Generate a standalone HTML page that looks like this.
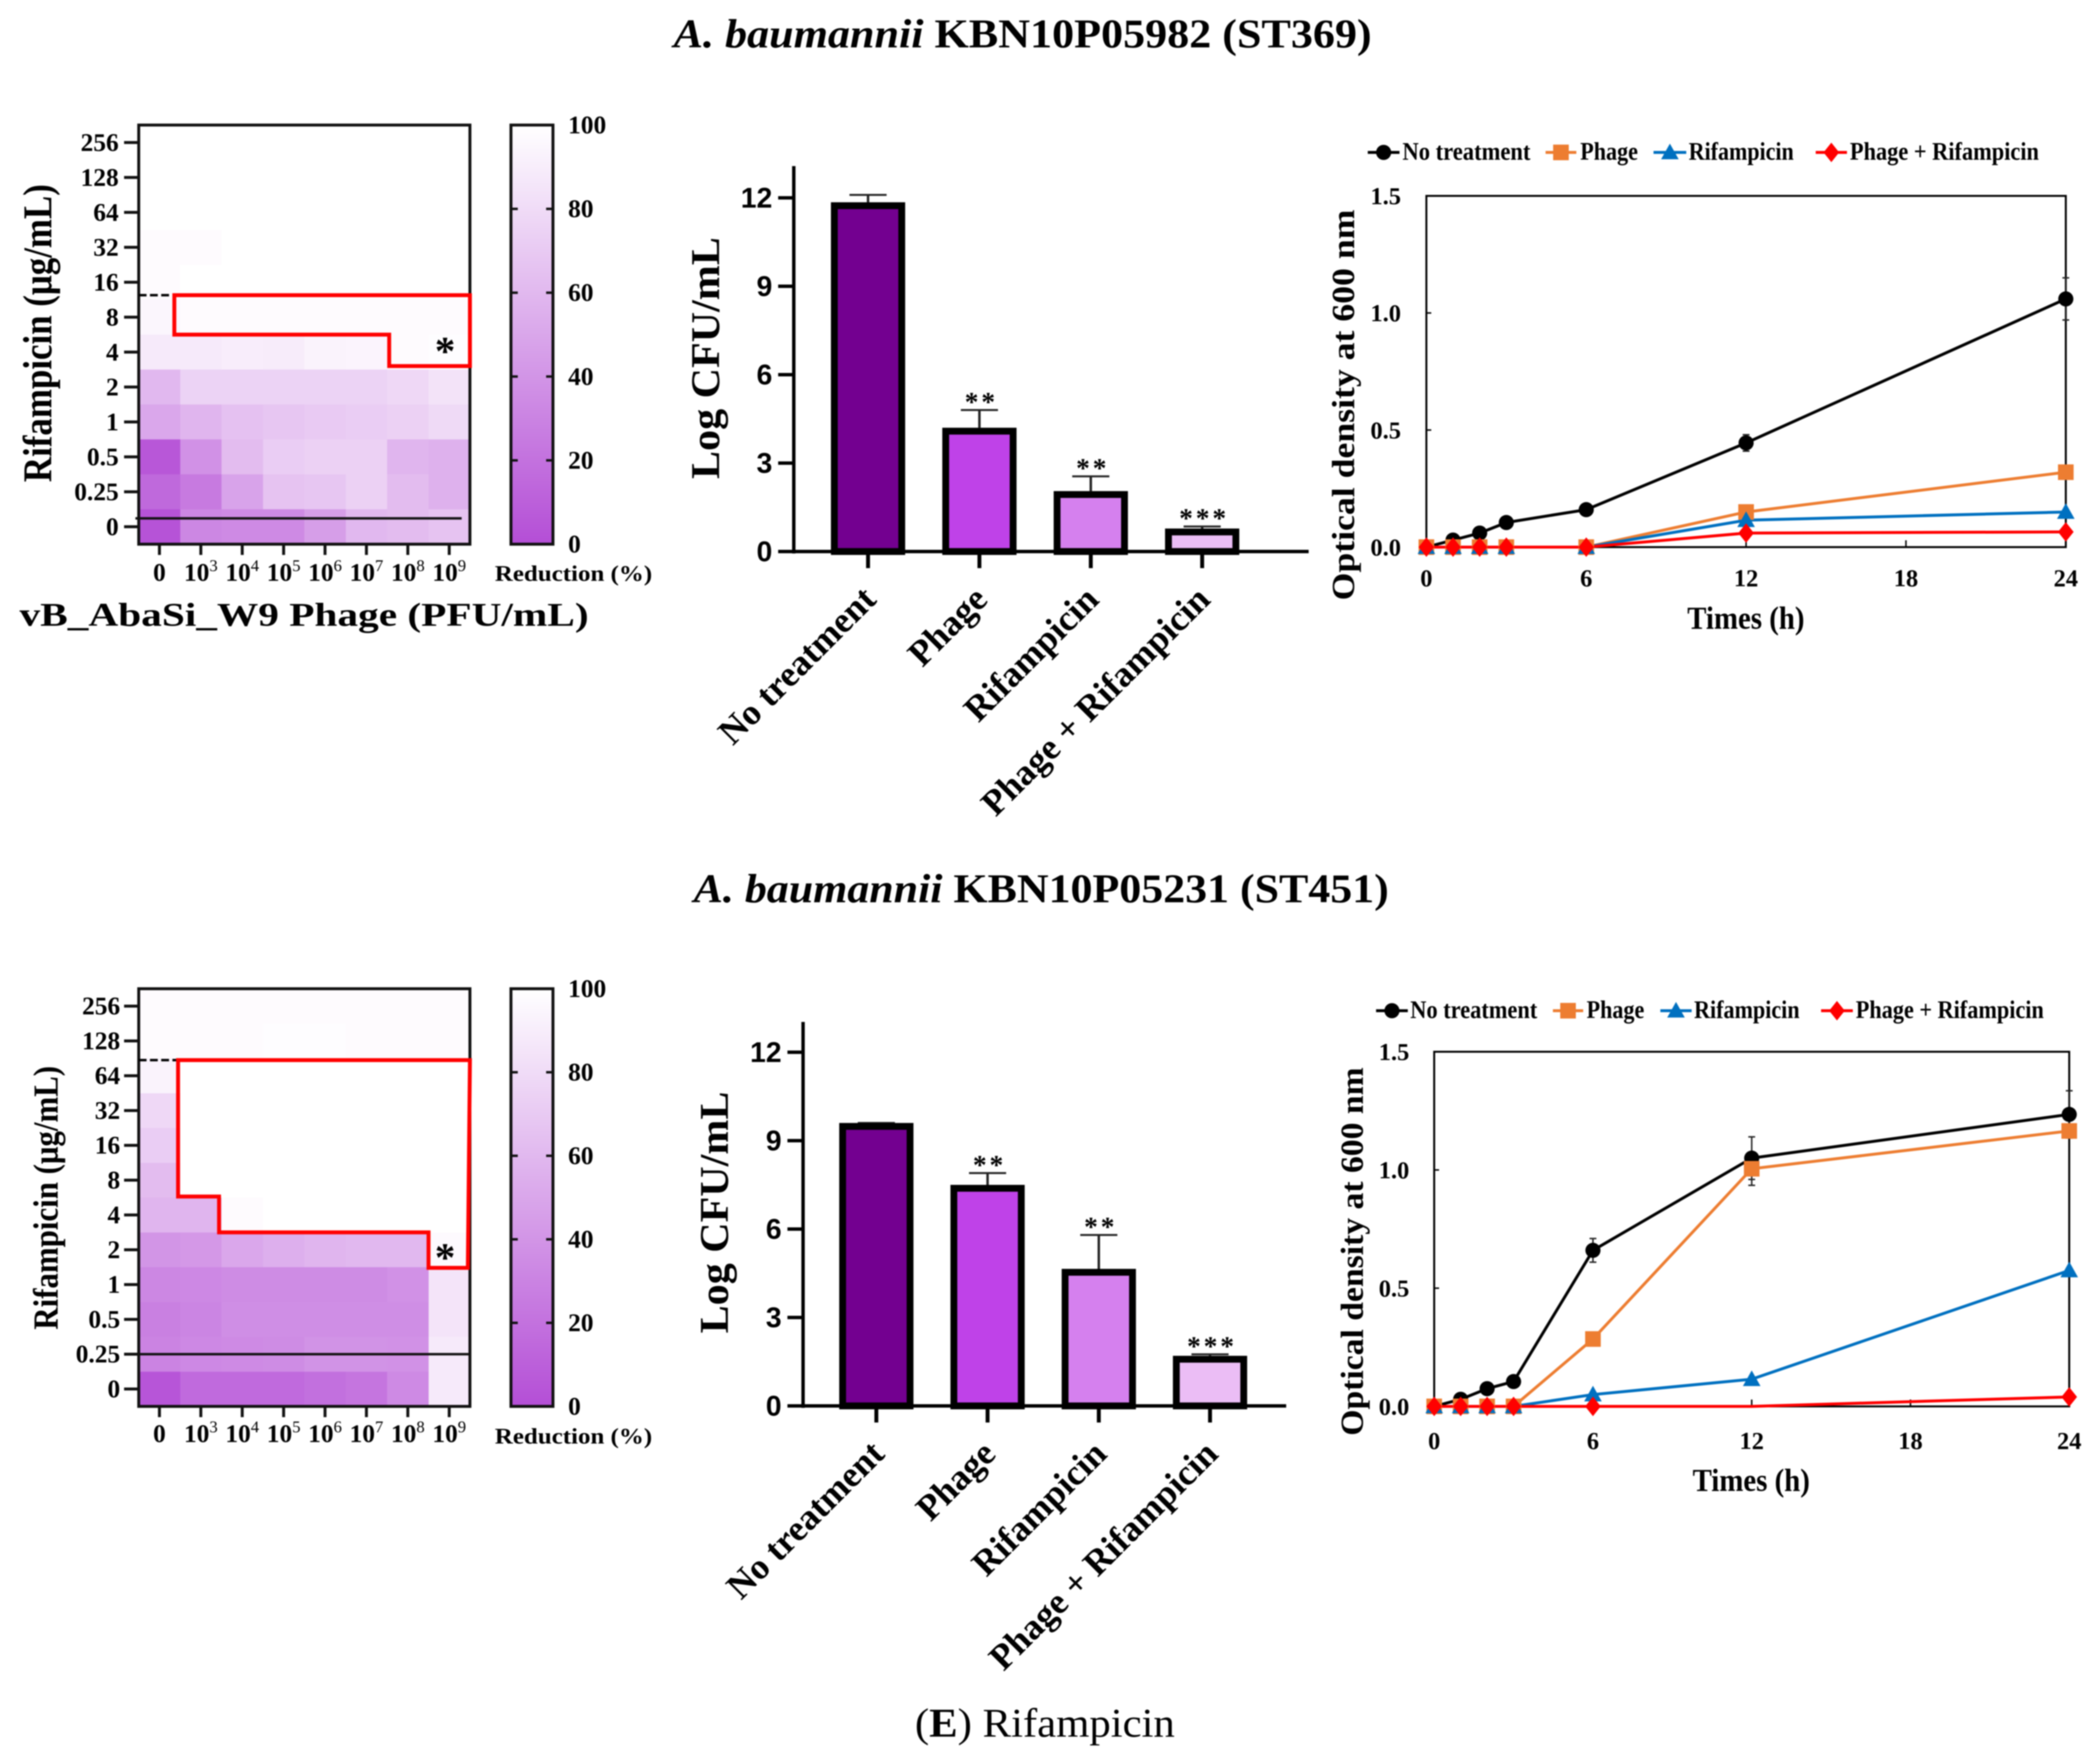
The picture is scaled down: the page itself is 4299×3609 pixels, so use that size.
<!DOCTYPE html>
<html lang="en">
<head>
<meta charset="utf-8">
<title>A. baumannii rifampicin synergy figure</title>
<style>
html,body{margin:0;padding:0;background:#fff;}
svg{display:block;filter:blur(1.2px);}
text{font-family:"Liberation Serif","DejaVu Serif",serif;fill:#000;}
.b{font-weight:700;}
.sans{font-family:"Liberation Sans",Arial,sans-serif;font-weight:700;}
</style>
</head>
<body>
<svg id="fig" xmlns="http://www.w3.org/2000/svg" width="4299" height="3609" viewBox="0 0 4299 3609">
<rect x="0" y="0" width="4299" height="3609" fill="#fff"/>

<text class="b" x="1379" y="97" font-size="84" textLength="1429" lengthAdjust="spacingAndGlyphs"><tspan font-style="italic">A. baumannii</tspan> KBN10P05982 (ST369)</text>
<text class="b" x="1420" y="1847" font-size="84" textLength="1423" lengthAdjust="spacingAndGlyphs"><tspan font-style="italic">A. baumannii</tspan> KBN10P05231 (ST451)</text>
<text x="1873" y="3555" font-size="84" textLength="532" lengthAdjust="spacingAndGlyphs">(<tspan class="b">E</tspan>) Rifampicin</text>

<text class="b" transform="translate(105,682) rotate(-90)" text-anchor="middle" font-size="84" textLength="610" lengthAdjust="spacingAndGlyphs">Rifampicin (μg/mL)</text>
<text class="b" x="40" y="1281" font-size="68" textLength="1165" lengthAdjust="spacingAndGlyphs">vB_AbaSi_W9 Phage (PFU/mL)</text>
<text class="b" x="1013" y="1189" font-size="46" textLength="322" lengthAdjust="spacingAndGlyphs">Reduction (%)</text>
<text class="b" transform="translate(118,2452) rotate(-90)" text-anchor="middle" font-size="72" textLength="540" lengthAdjust="spacingAndGlyphs">Rifampicin (μg/mL)</text>
<text class="b" x="1013" y="2955" font-size="46" textLength="322" lengthAdjust="spacingAndGlyphs">Reduction (%)</text>

<text class="b" transform="translate(1472,733) rotate(-90)" text-anchor="middle" font-size="84" textLength="495" lengthAdjust="spacingAndGlyphs">Log CFU/mL</text>
<text class="b" transform="translate(1490,2482) rotate(-90)" text-anchor="middle" font-size="84" textLength="495" lengthAdjust="spacingAndGlyphs">Log CFU/mL</text>

<text class="b" transform="translate(2772,829) rotate(-90)" text-anchor="middle" font-size="66" textLength="800" lengthAdjust="spacingAndGlyphs">Optical density at 600 nm</text>
<text class="b" x="3574" y="1287" text-anchor="middle" font-size="66" textLength="240" lengthAdjust="spacingAndGlyphs">Times (h)</text>
<text class="b" transform="translate(2790,2562) rotate(-90)" text-anchor="middle" font-size="66" textLength="754" lengthAdjust="spacingAndGlyphs">Optical density at 600 nm</text>
<text class="b" x="3585" y="3052" text-anchor="middle" font-size="66" textLength="240" lengthAdjust="spacingAndGlyphs">Times (h)</text>

<defs>
<linearGradient id="cbGrad" x1="0" y1="1" x2="0" y2="0">
<stop offset="0" stop-color="rgb(180,78,214)"/>
<stop offset="1" stop-color="rgb(255,255,255)"/>
</linearGradient>
</defs>
</svg>

<script>
/* ---------- heatmap data ---------- */
const heatRowLabels = ['256','128','64','32','16','8','4','2','1','0.5','0.25','0'];
const heatColExponents = ['', '3', '4', '5', '6', '7', '8', '9'];
const colorbarTicks = [0, 20, 40, 60, 80, 100];
const heatTopValues = [
  [100,100,100,100,100,100,100,100],
  [100,100,100,100,100,100,100,100],
  [100,100,100,100,100,100,100,100],
  [98,98,100,100,100,100,100,100],
  [98,100,100,100,100,100,100,100],
  [95,98,98,98,98,98,98,98],
  [88,88,90,89,93,94,98,99],
  [60,75,75,75,75,75,78,84],
  [50,58,65,68,70,72,74,79],
  [5,38,62,72,74,74,58,56],
  [15,25,48,66,68,74,62,56],
  [3,32,34,34,45,60,62,66]
];
const heatBottomValues = [
  [98,98,98,98,98,98,98,98],
  [98,98,98,99,99,98,98,98],
  [93,100,100,100,100,100,100,100],
  [78,100,100,100,100,100,100,100],
  [72,100,100,100,100,100,100,100],
  [62,100,100,100,100,100,100,100],
  [58,58,98,100,100,100,100,100],
  [40,42,50,55,58,60,60,97],
  [32,33,35,35,35,35,38,85],
  [28,31,36,36,36,36,36,85],
  [30,33,34,35,39,39,38,88],
  [4,16,16,16,19,22,34,88]
];
/* annotation outlines, expressed as [column, row] cell positions */
const heatTopOutline = [[0.86,4.87],[8,4.87],[8,6.9],[6.05,6.9],[6.05,6],[0.86,6]];
const heatBottomOutline = [[0.95,2.05],[8,2.05],[7.95,8.02],[7,8.02],[7,7],[1.94,7],[1.94,5.97],[0.95,5.97]];

/* ---------- bar data ---------- */
const barCategories = ['No treatment','Phage','Rifampicin','Phage + Rifampicin'];
const barColors = ['#730090','#bf42e8','#d580ee','#ebbdf5'];
const barTicks = [0, 3, 6, 9, 12];
const barStars = ['', '**', '**', '***'];
const barTopValues = [11.85, 4.2, 2.05, 0.78];
const barTopUpper = [12.1, 4.8, 2.55, 0.85];
const barBottomValues = [9.6, 7.5, 4.65, 1.7];
const barBottomUpper = [9.6, 7.9, 5.8, 1.75];

/* ---------- line data ---------- */
const lineTimes = [0, 1, 2, 3, 6, 12, 24];
const lineXTicks = [0, 6, 12, 18, 24];
const lineYTicks = ['0.0', '0.5', '1.0', '1.5'];
const seriesNames = ['No treatment','Phage','Rifampicin','Phage + Rifampicin'];
const seriesColors = ['#000000','#ed7d31','#0070c0','#ff0000'];
const lineTopNone = [0, 0.03, 0.06, 0.105, 0.16, 0.445, 1.06];
const lineTopPhage = [0, 0, 0, 0, 0, 0.15, 0.32];
const lineTopRif = [0, 0, 0, 0, 0, 0.115, 0.15];
const lineTopCombo = [0, 0, 0, 0, 0, 0.06, 0.065];
const lineTopNoneErr = [0, 0.005, 0.005, 0.01, 0.015, 0.035, 0.09];
const lineTopPhageErr = [0, 0, 0, 0, 0, 0.01, 0.01];
const lineBottomNone = [0, 0.03, 0.075, 0.105, 0.66, 1.05, 1.235];
const lineBottomPhage = [0, 0, 0, 0, 0.285, 1.005, 1.165];
const lineBottomRif = [0, 0, 0, 0, 0.05, 0.115, 0.575];
const lineBottomCombo = [0, 0, 0, 0, 0, 0, 0.04];
const lineBottomNoneErr = [0, 0.005, 0.01, 0.01, 0.05, 0.09, 0.1];
const lineBottomPhageErr = [0, 0, 0, 0, 0.01, 0.07, 0.02];
/* the combination series has no visible marker at 12 h in the lower plot */
const lineBottomComboHidden = [12];

/* ---------- helpers ---------- */
const svg = document.getElementById('fig');
const NS = 'http://www.w3.org/2000/svg';
function mk(parent, tag, attrs, content) {
  const el = document.createElementNS(NS, tag);
  for (const k in attrs) el.setAttribute(k, attrs[k]);
  if (content !== undefined) el.textContent = content;
  parent.appendChild(el);
  return el;
}
function heatColor(v) {
  const t = v / 100;
  const c = (a) => Math.round(a + (255 - a) * t);
  return 'rgb(' + c(180) + ',' + c(78) + ',' + c(214) + ')';
}
function slug(s) {
  return s.toLowerCase().replace(/[^a-z0-9]+/g, '-').replace(/^-|-$/g, '');
}

/* ---------- heatmap ---------- */
function drawHeatmap(prefix, box, values, outline, cfg) {
  const g = mk(svg, 'g', {});
  
  
  const cw = (box.r - box.l) / heatColExponents.length;
  const ch = (box.b - box.t) / heatRowLabels.length;
  const xAt = (c) => box.l + c * cw;
  const yAt = (r) => box.t + r * ch;
  values.forEach((row, r) => row.forEach((v, c) => {
    const cell = mk(g, 'rect', {x: xAt(c), y: yAt(r), width: cw + 0.6, height: ch + 0.6, fill: heatColor(v), 'shape-rendering': 'crispEdges'});
    
    
  }));
  const frame = mk(g, 'rect', {x: box.l, y: box.t, width: box.r - box.l, height: box.b - box.t, fill: 'none', stroke: '#111', 'stroke-width': 6});
  
  

  heatRowLabels.forEach((lab, r) => {
    const y = yAt(r + 0.5);
    const tick = mk(g, 'line', {x1: box.l - 30, x2: box.l, y1: y, y2: y, stroke: '#111', 'stroke-width': 6});
    
    
    const t = mk(g, 'text', {x: cfg.yLabelRight, y: y + 17, 'text-anchor': 'end', 'font-size': 52, 'font-weight': 700}, lab);
    
    
  });
  heatColExponents.forEach((ex, c) => {
    const x = xAt(c + 0.5);
    const tick = mk(g, 'line', {x1: x, x2: x, y1: box.b, y2: cfg.xTickEnd, stroke: '#111', 'stroke-width': 6});
    
    
    const t = mk(g, 'text', {x: x, y: cfg.xLabelY + 17, 'text-anchor': 'middle', 'font-size': 52, 'font-weight': 700});
    
    
    if (ex === '') {
      t.textContent = '0';
    } else {
      mk(t, 'tspan', {}, '10');
      mk(t, 'tspan', {dy: -20, 'font-size': 34, 'font-weight': 400}, ex);
    }
  });

  const dash = mk(g, 'line', {x1: box.l, x2: xAt(outline[0][0]), y1: yAt(outline[0][1]), y2: yAt(outline[0][1]), stroke: '#000', 'stroke-width': 5, 'stroke-dasharray': '16 7'});
  
  
  const base = mk(g, 'line', {x1: xAt(cfg.baseFrom), x2: xAt(cfg.baseTo), y1: yAt(cfg.baseRow), y2: yAt(cfg.baseRow), stroke: '#111', 'stroke-width': 5});
  
  
  const pts = outline.map((p) => xAt(p[0]) + ',' + yAt(p[1])).join(' ');
  const poly = mk(g, 'polygon', {points: pts, fill: 'none', stroke: '#ff0000', 'stroke-width': 8});
  
  
  const star = mk(g, 'text', {x: xAt(cfg.star[0]), y: yAt(cfg.star[1]) + 40, 'text-anchor': 'middle', 'font-size': 84, 'font-weight': 700, 'font-family': 'Liberation Sans'}, '*');
  
  

  /* colorbar */
  const cbL = 1046, cbR = 1132;
  const cb = mk(g, 'rect', {x: cbL, y: box.t, width: cbR - cbL, height: box.b - box.t, fill: 'url(#cbGrad)', stroke: '#111', 'stroke-width': 6});
  
  
  const cbY = (v) => box.b - (box.b - box.t) * v / 100;
  colorbarTicks.forEach((v) => {
    const y = cbY(v);
    if (v > 0 && v < 100) {
      const a = mk(g, 'line', {x1: cbL, x2: cbL + 14, y1: y, y2: y, stroke: '#111', 'stroke-width': 5});
      
      
      const b = mk(g, 'line', {x1: cbR - 14, x2: cbR, y1: y, y2: y, stroke: '#111', 'stroke-width': 5});
      
      
    }
    const t = mk(g, 'text', {x: 1163, y: y + 17, 'font-size': 52, 'font-weight': 700}, String(v));
    
    
  });
}

/* ---------- bar chart ---------- */
function drawBars(prefix, ax, values, upper) {
  const g = mk(svg, 'g', {});
  
  
  const y = (v) => ax.y0 + (ax.y12 - ax.y0) * v / 12;
  const x = (i) => ax.x0 + i * ax.step;
  values.forEach((v, i) => {
    const cx = x(i);
    const err = mk(g, 'line', {x1: cx, x2: cx, y1: y(upper[i]), y2: y(v), stroke: '#222', 'stroke-width': 5});
    
    
    const cap = mk(g, 'line', {x1: cx - 38, x2: cx + 38, y1: y(upper[i]), y2: y(upper[i]), stroke: '#222', 'stroke-width': 4});
    
    
    const bar = mk(g, 'rect', {x: cx - 69, y: y(v) + 7, width: 138, height: Math.max(0, y(0) - y(v) - 7), fill: barColors[i], stroke: '#000', 'stroke-width': 14});
    
    
    if (barStars[i]) {
      const s = mk(g, 'text', {x: cx + 4, y: y(upper[i]) + 2, 'text-anchor': 'middle', 'font-size': 56, 'font-weight': 700, 'letter-spacing': 6, fill: '#333', 'font-family': 'Liberation Sans'}, barStars[i]);
      
      
    }
    const tick = mk(g, 'line', {x1: cx, x2: cx, y1: y(0), y2: y(0) + 34, stroke: '#000', 'stroke-width': 8});
    
    
    const lab = mk(g, 'text', {transform: 'translate(' + (cx + 20) + ',' + (y(0) + 102) + ') rotate(-45)', 'text-anchor': 'end', 'font-size': 74, 'font-weight': 700}, barCategories[i]);
    
    
  });
  const yAxis = mk(g, 'line', {x1: ax.axisX, x2: ax.axisX, y1: ax.top, y2: y(0) + 4, stroke: '#000', 'stroke-width': 7});
  
  
  const xAxis = mk(g, 'line', {x1: ax.axisX - 32, x2: ax.right, y1: y(0), y2: y(0), stroke: '#000', 'stroke-width': 7});
  
  
  barTicks.forEach((v) => {
    const tick = mk(g, 'line', {x1: ax.axisX - 32, x2: ax.axisX, y1: y(v), y2: y(v), stroke: '#000', 'stroke-width': 7});
    
    
    const t = mk(g, 'text', {class: 'sans', x: ax.axisX - 44, y: y(v) + 20, 'text-anchor': 'end', 'font-size': 58}, String(v));
    
    
  });
}

/* ---------- line chart ---------- */
function marker(g, kind, cx, cy, color) {
  if (kind === 0) return mk(g, 'circle', {cx: cx, cy: cy, r: 15.5, fill: color});
  if (kind === 1) return mk(g, 'rect', {x: cx - 16, y: cy - 16, width: 32, height: 32, fill: color});
  if (kind === 2) return mk(g, 'polygon', {points: (cx - 18) + ',' + (cy + 14) + ' ' + (cx + 18) + ',' + (cy + 14) + ' ' + cx + ',' + (cy - 18), fill: color});
  return mk(g, 'polygon', {points: (cx - 16) + ',' + cy + ' ' + cx + ',' + (cy - 20) + ' ' + (cx + 16) + ',' + cy + ' ' + cx + ',' + (cy + 20), fill: color});
}
function drawLines(prefix, box, series, errs, hiddenCombo, legend) {
  const g = mk(svg, 'g', {});
  
  
  const x = (t) => box.l + (box.r - box.l) * t / 24;
  const y = (v) => box.b - (box.b - box.t) * v / 1.5;
  const frame = mk(g, 'rect', {x: box.l, y: box.t, width: box.r - box.l, height: box.b - box.t, fill: 'none', stroke: '#000', 'stroke-width': 4});
  
  
  lineXTicks.forEach((t) => {
    const tick = mk(g, 'line', {x1: x(t), x2: x(t), y1: box.b, y2: box.b - 14, stroke: '#000', 'stroke-width': 3});
    
    
    const lab = mk(g, 'text', {x: x(t), y: box.xLabelY + 17, 'text-anchor': 'middle', 'font-size': 50, 'font-weight': 700}, String(t));
    
    
  });
  lineYTicks.forEach((s) => {
    const v = parseFloat(s);
    const tick = mk(g, 'line', {x1: box.l, x2: box.l + 10, y1: y(v), y2: y(v), stroke: '#000', 'stroke-width': 3});
    
    
    const lab = mk(g, 'text', {x: box.yLabelRight, y: y(v) + 17, 'text-anchor': 'end', 'font-size': 50, 'font-weight': 700}, s);
    
    
  });
  series.forEach((vals, si) => {
    const nm = slug(seriesNames[si]);
    const err = errs[si];
    if (err) {
      lineTimes.forEach((t, i) => {
        if (!err[i]) return;
        const bar = mk(g, 'line', {x1: x(t), x2: x(t), y1: y(vals[i] - err[i]), y2: y(vals[i] + err[i]), stroke: '#222', 'stroke-width': 3});
        
        
        [vals[i] - err[i], vals[i] + err[i]].forEach((e) => {
          const cap = mk(g, 'line', {x1: x(t) - 7, x2: x(t) + 7, y1: y(e), y2: y(e), stroke: '#222', 'stroke-width': 3});
          
          
        });
      });
    }
    const pts = lineTimes.map((t, i) => x(t) + ',' + y(vals[i])).join(' ');
    const pl = mk(g, 'polyline', {points: pts, fill: 'none', stroke: seriesColors[si], 'stroke-width': 6});
    
    
  });
  series.forEach((vals, si) => {
    const nm = slug(seriesNames[si]);
    lineTimes.forEach((t, i) => {
      if (si === 3 && hiddenCombo.indexOf(t) >= 0) return;
      const m = marker(g, si, x(t), y(vals[i]), seriesColors[si]);
      
      
    });
  });
  seriesNames.forEach((name, si) => {
    const e = legend.items[si];
    const nm = slug(name);
    const entry = mk(g, 'g', {});
    
    
    const ln = mk(entry, 'line', {x1: e[0], x2: e[1], y1: legend.y, y2: legend.y, stroke: seriesColors[si], 'stroke-width': 6});
    
    
    const mm = marker(entry, si, (e[0] + e[1]) / 2, legend.y, seriesColors[si]);
    
    
    const tx = mk(entry, 'text', {x: e[2], y: legend.y + 15, 'font-size': 52, 'font-weight': 700, textLength: e[3] - e[2], lengthAdjust: 'spacingAndGlyphs'}, name);
    
    
  });
}

/* ---------- render panels ---------- */
drawHeatmap('heatmap-top', {l: 284, r: 962, t: 256, b: 1114}, heatTopValues, heatTopOutline,
  {yLabelRight: 243, xTickEnd: 1136, xLabelY: 1172, baseFrom: -0.08, baseTo: 7.8, baseRow: 11.26, star: [7.4, 6.3]});
drawHeatmap('heatmap-bottom', {l: 284, r: 962, t: 2024, b: 2879}, heatBottomValues, heatBottomOutline,
  {yLabelRight: 246, xTickEnd: 2901, xLabelY: 2935, baseFrom: 0, baseTo: 8, baseRow: 10.5, star: [7.4, 7.55]});

drawBars('bar-chart-top', {x0: 1777, step: 228, y0: 1129, y12: 405, axisX: 1625, top: 340, right: 2679}, barTopValues, barTopUpper);
drawBars('bar-chart-bottom', {x0: 1794, step: 227.7, y0: 2878, y12: 2154, axisX: 1644, top: 2092, right: 2633}, barBottomValues, barBottomUpper);

drawLines('line-chart-top', {l: 2920, r: 4229, t: 401, b: 1120, xLabelY: 1183, yLabelRight: 2868},
  [lineTopNone, lineTopPhage, lineTopRif, lineTopCombo], [lineTopNoneErr, lineTopPhageErr, null, null], [],
  {y: 312, items: [[2800,2865,2871,3133],[3164,3227,3235,3353],[3385,3452,3457,3672],[3717,3781,3787,4174]]});
drawLines('line-chart-bottom', {l: 2936, r: 4236, t: 2153, b: 2879, xLabelY: 2949, yLabelRight: 2885},
  [lineBottomNone, lineBottomPhage, lineBottomRif, lineBottomCombo], [lineBottomNoneErr, lineBottomPhageErr, null, null], lineBottomComboHidden,
  {y: 2069, items: [[2817,2882,2887,3147],[3179,3241,3248,3366],[3399,3463,3468,3684],[3728,3793,3799,4184]]});
</script>
</body>
</html>
